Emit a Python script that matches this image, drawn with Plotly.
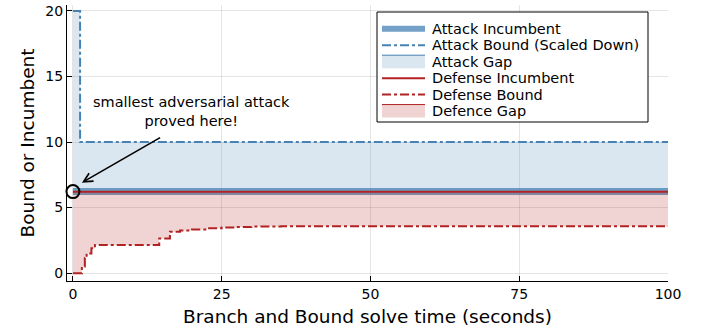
import numpy as np
import plotly.graph_objects as go

# ---- data ----
t_range = [0, 100]
attack_incumbent = 6.22
defense_incumbent = 6.2

attack_bound_t = [0, 1.2, 100]
attack_bound_v = [20, 10, 10]

defense_bound_t = [0, 1.5, 2.0, 2.3, 3.1, 3.7, 14.5, 16.3, 18.0, 20.0, 22.5, 25.0, 27.5, 30.0, 35.0, 100]
defense_bound_v = [0, 0.5, 1.15, 1.5, 1.9, 2.15, 2.65, 3.15, 3.25, 3.33, 3.42, 3.48, 3.52, 3.55, 3.58, 3.6]

proved_t = [0]
proved_v = [attack_incumbent]

legend_labels = ["Attack Incumbent", "Attack Bound (Scaled Down)", "Attack Gap",
                 "Defense Incumbent", "Defense Bound", "Defence Gap"]

BLUE = "#4682B4"
RED = "#B22222"
BLUE_FILL = "rgba(70,130,180,0.2)"
RED_FILL = "rgba(178,34,34,0.2)"
BLUE_THICK = "rgba(70,130,180,0.75)"
FONT = "DejaVu Sans"

fig = go.Figure()

# Attack gap
fig.add_trace(go.Scatter(x=t_range, y=[attack_incumbent] * 2, mode="lines",
                         line=dict(width=0, color=BLUE), showlegend=False, hoverinfo="skip"))
fig.add_trace(go.Scatter(x=attack_bound_t, y=attack_bound_v, mode="lines", line_shape="hv",
                         line=dict(width=0, color=BLUE), fill="tonexty",
                         fillcolor=BLUE_FILL, showlegend=False))
# Attack incumbent + bound
fig.add_trace(go.Scatter(x=t_range, y=[attack_incumbent] * 2, mode="lines",
                         line=dict(width=7, color=BLUE_THICK), showlegend=False))
fig.add_trace(go.Scatter(x=attack_bound_t, y=attack_bound_v, mode="lines", line_shape="hv",
                         line=dict(width=2, color=BLUE, dash="dashdot"), showlegend=False))

# Defence gap
fig.add_trace(go.Scatter(x=defense_bound_t, y=defense_bound_v, mode="lines", line_shape="hv",
                         line=dict(width=0, color=RED), showlegend=False, hoverinfo="skip"))
fig.add_trace(go.Scatter(x=t_range, y=[defense_incumbent] * 2, mode="lines",
                         line=dict(width=0, color=RED), fill="tonexty",
                         fillcolor=RED_FILL, showlegend=False))
fig.add_trace(go.Scatter(x=t_range, y=[defense_incumbent] * 2, mode="lines",
                         line=dict(width=2, color=RED), showlegend=False))
fig.add_trace(go.Scatter(x=defense_bound_t, y=defense_bound_v, mode="lines", line_shape="hv",
                         line=dict(width=2, color=RED, dash="dashdot"), showlegend=False))

fig.add_trace(go.Scatter(x=proved_t, y=proved_v, mode="markers",
                         marker=dict(symbol="circle-open", size=13, color="black",
                                     line=dict(width=2, color="black")),
                         showlegend=False, cliponaxis=False))

fig.add_annotation(x=1.5, y=6.9, ax=14.9, ay=10.4, axref="x", ayref="y",
                   text="", showarrow=True, arrowhead=5, arrowsize=1.1, arrowwidth=1.6,
                   arrowcolor="black", standoff=0)
fig.add_annotation(x=20.0, y=12.35, text="smallest adversarial attack<br>proved here!",
                   showarrow=False, font=dict(size=14.5, color="black", family=FONT), align="center")

# ---- manual legend (paper coordinates) ----
L, R, T, B = 67, 668, 5, 281
def px(xp):
    return (xp - L) / (R - L)
def py(yp):
    return (B - yp) / (B - T)

fig.add_shape(type="rect", xref="paper", yref="paper", x0=px(377), x1=px(648), y0=py(122), y1=py(12),
              line=dict(color="black", width=1), fillcolor="white", layer="above")
row0, step = 28.8, 16.45
samp_x0, samp_x1, text_x = 382, 425, 430
styles = [
    dict(kind="line", color=BLUE_THICK, width=6, dash="solid"),
    dict(kind="line", color=BLUE, width=2, dash="dashdot"),
    dict(kind="fill", color=BLUE, fill=BLUE_FILL),
    dict(kind="line", color=RED, width=2, dash="solid"),
    dict(kind="line", color=RED, width=2, dash="dashdot"),
    dict(kind="fill", color=RED, fill=RED_FILL),
]
for i, (lab, st) in enumerate(zip(legend_labels, styles)):
    yc = row0 + i * step
    if st["kind"] == "line":
        fig.add_shape(type="line", xref="paper", yref="paper", x0=px(samp_x0), x1=px(samp_x1),
                      y0=py(yc), y1=py(yc), layer="above",
                      line=dict(color=st["color"], width=st["width"], dash=st["dash"]))
    else:
        fig.add_shape(type="rect", xref="paper", yref="paper", x0=px(samp_x0), x1=px(samp_x1),
                      y0=py(yc + 6.5), y1=py(yc - 6.5), layer="above",
                      line=dict(width=0), fillcolor=st["fill"])
        fig.add_shape(type="line", xref="paper", yref="paper", x0=px(samp_x0), x1=px(samp_x1),
                      y0=py(yc - 6.5), y1=py(yc - 6.5), layer="above",
                      line=dict(color=st["color"], width=1))
    fig.add_annotation(xref="paper", yref="paper", x=px(text_x), y=py(yc), text=lab,
                       showarrow=False, xanchor="left", yanchor="middle",
                       font=dict(size=14.5, color="black", family=FONT))

fig.update_layout(
    width=709, height=331,
    margin=dict(l=L, r=709 - R, t=T, b=331 - B),
    plot_bgcolor="white", paper_bgcolor="white",
    font=dict(family=FONT, size=14, color="black"),
    showlegend=False,
)
fig.update_xaxes(range=[-1, 100], tickvals=[0, 25, 50, 75, 100], automargin=False,
                 showline=True, linecolor="black", linewidth=1, mirror=False,
                 ticks="inside", ticklen=5, tickcolor="black", tickfont=dict(size=14),
                 showgrid=True, gridcolor="rgba(0,0,0,0.1)", gridwidth=1, zeroline=False,
                 title=dict(text="Branch and Bound solve time (seconds)", font=dict(size=18.5), standoff=9))
fig.update_yaxes(range=[-0.6, 20.45], tickvals=[0, 5, 10, 15, 20], automargin=False,
                 showline=True, linecolor="black", linewidth=1, mirror=False,
                 ticks="inside", ticklen=5, tickcolor="black", tickfont=dict(size=14),
                 showgrid=True, gridcolor="rgba(0,0,0,0.1)", gridwidth=1, zeroline=False,
                 title=dict(text="Bound or Incumbent", font=dict(size=18.5), standoff=5))

fig.write_html("out.html", config={"displayModeBar": False},
               post_script="document.body.style.margin='0';document.body.style.overflow='hidden';")
